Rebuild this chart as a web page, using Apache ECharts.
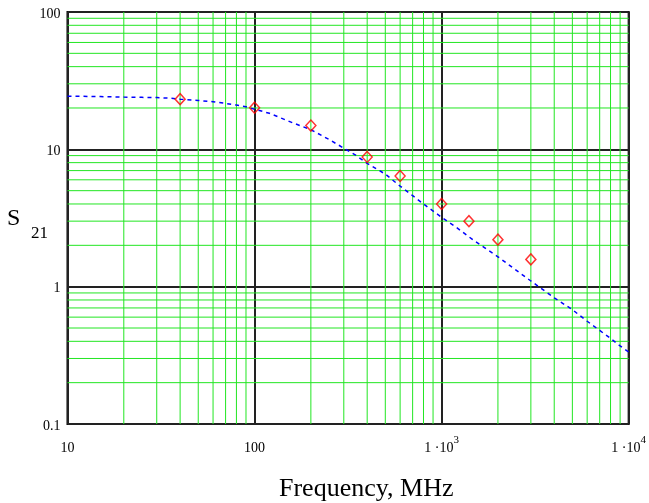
<!DOCTYPE html>
<html>
<head>
<meta charset="utf-8">
<script src="https://cdn.jsdelivr.net/npm/echarts@6/dist/echarts.min.js"></script>
<style>
  html, body { margin: 0; padding: 0; background: #fff; }
  #chart { width: 649px; height: 503px; }
</style>
</head>
<body>
<div id="chart"></div>
<script>
// dashed model curve (frequency MHz, S21)
const lineFreq = [10, 15, 20, 25, 30, 35, 40, 50, 60, 70, 80, 90, 100, 120, 140, 160, 200, 250, 300, 350, 400, 500, 600, 700, 800, 1000, 1200, 1500, 2000, 2500, 3000, 4000, 5000, 6000, 7000, 8000, 9000, 10000];
const lineS21 = [24.4, 24.2, 24.0, 23.9, 23.8, 23.6, 23.2, 22.7, 22.2, 21.6, 21.0, 20.4, 19.6, 18.3, 16.8, 15.6, 13.9, 11.8, 10.2, 9.0, 7.9, 6.6, 5.4, 4.6, 4.0, 3.2, 2.7, 2.15, 1.65, 1.32, 1.1, 0.83, 0.68, 0.56, 0.48, 0.42, 0.37, 0.335];

// measured points (red diamonds)
const measFreq = [40, 100, 200, 400, 600, 1000, 1400, 2000, 3000];
const measS21 = [23.2, 20.1, 14.9, 8.8, 6.4, 4.0, 3.0, 2.2, 1.58];

// minor grid positions
const xMinor = [20, 30, 40, 50, 60, 70, 80, 90, 200, 300, 400, 500, 600, 700, 800, 900, 2000, 3000, 4000, 5000, 6000, 7000, 8000, 9000];
const yMinor = [0.2, 0.3, 0.4, 0.5, 0.6, 0.7, 0.8, 0.9, 2, 3, 4, 5, 6, 7, 8, 9, 20, 30, 40, 50, 60, 70, 80, 90];

const xTickLabels = new Map([[10, "{b|10}"], [100, "{b|100}"], [1000, "{b|1 ·10}{s|3}"], [10000, "{b|1 ·10}{s|4}"]]);
const yTickLabels = new Map([[0.1, "0.1"], [1, "1"], [10, "10"], [100, "100"]]);

const FONT = "Liberation Serif";
const X_MIN = 10, X_MAX = 10000, Y_MIN = 0.1, Y_MAX = 100;

var chartDom = document.getElementById("chart");
var myChart = echarts.init(chartDom);
var option;

const keyOf = (v) => {
  // log axis hands back float values, snap to the decade
  const e = Math.round(Math.log10(v));
  return Math.pow(10, e);
};

const gridStyle = { color: "#22e622", width: 1, type: "solid" };
const minorSeries = [];
for (const v of xMinor) {
  minorSeries.push({
    type: "line",
    z: 1,
    silent: true,
    showSymbol: false,
    lineStyle: gridStyle,
    data: [[v, Y_MIN], [v, Y_MAX]],
  });
}
for (const v of yMinor) {
  minorSeries.push({
    type: "line",
    z: 1,
    silent: true,
    showSymbol: false,
    lineStyle: gridStyle,
    data: [[X_MIN, v], [X_MAX, v]],
  });
}

option = {
  animation: false,
  backgroundColor: "#fff",
  grid: {
    left: 67.5,
    right: 16,
    top: 12,
    bottom: 79,
    show: true,
    borderColor: "#000",
    borderWidth: 2,
  },
  xAxis: {
    type: "log",
    logBase: 10,
    min: X_MIN,
    max: X_MAX,
    axisLine: { show: false },
    axisTick: { show: false },
    minorTick: { show: false },
    minorSplitLine: { show: false },
    splitLine: { show: true, lineStyle: { color: "#222", width: 2 } },
    axisLabel: {
      margin: 11,
      fontFamily: FONT,
      fontSize: 14,
      color: "#000",
      formatter: (v) => xTickLabels.get(keyOf(v)) || "",
      rich: {
        b: { fontFamily: FONT, fontSize: 14, color: "#000", lineHeight: 20, verticalAlign: "bottom" },
        s: { fontFamily: FONT, fontSize: 11, color: "#000", lineHeight: 20, verticalAlign: "top" },
      },
    },
  },
  yAxis: {
    type: "log",
    logBase: 10,
    min: Y_MIN,
    max: Y_MAX,
    axisLine: { show: false },
    axisTick: { show: false },
    minorTick: { show: false },
    minorSplitLine: { show: false },
    splitLine: { show: true, lineStyle: { color: "#222", width: 2 } },
    axisLabel: {
      margin: 7,
      fontFamily: FONT,
      fontSize: 14,
      color: "#000",
      verticalAlign: "top",
      padding: [-5, 0, 0, 0],
      formatter: (v) => yTickLabels.get(keyOf(v)) || "",
    },
  },
  graphic: [
    {
      type: "text",
      left: 7,
      top: 207,
      style: { text: "S", font: "24px " + FONT, fill: "#000" },
    },
    {
      type: "text",
      left: 31,
      top: 225,
      style: { text: "21", font: "17px " + FONT, fill: "#000" },
    },
    {
      type: "text",
      left: 279,
      top: 476,
      style: { text: "Frequency, MHz", font: "26px " + FONT, fill: "#000" },
    },
  ],
  series: minorSeries.concat([
    {
      type: "line",
      z: 3,
      data: lineFreq.map((f, i) => [f, lineS21[i]]),
      showSymbol: false,
      lineStyle: { color: "#0000ff", width: 1.5, type: [4, 4] },
    },
    {
      type: "scatter",
      z: 4,
      data: measFreq.map((f, i) => [f, measS21[i]]),
      symbol: "diamond",
      symbolSize: [10, 11],
      itemStyle: { color: "none", borderColor: "#ff0000", borderWidth: 1.5 },
    },
  ]),
};

option && myChart.setOption(option);
</script>
</body>
</html>
